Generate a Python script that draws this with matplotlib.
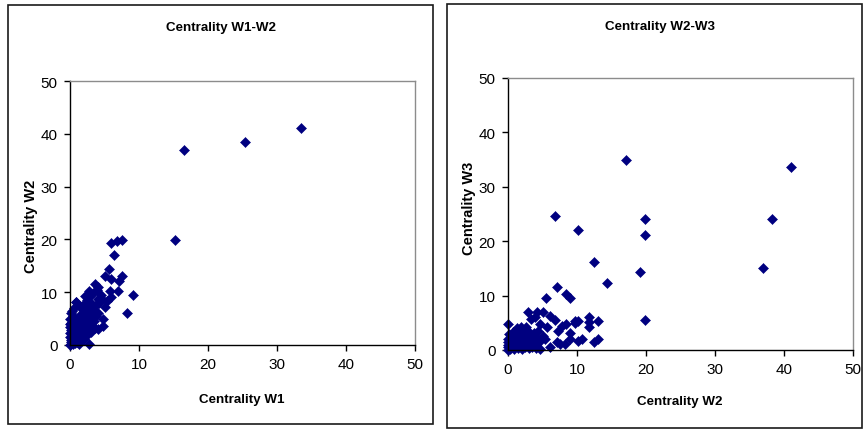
import matplotlib
matplotlib.use("Agg")
import matplotlib.pyplot as plt
from matplotlib.patches import Rectangle

plt.rcParams['font.family'] = ['Liberation Sans', 'DejaVu Sans']

# ---------------- data ----------------
# Left chart: Centrality W1 (x) vs Centrality W2 (y)
w1_a = [33.5, 25.4, 16.5, 15.2, 9.1, 8.2, 6.0, 6.8, 7.5, 6.4,
        5.6, 5.0, 6.0, 7.5, 7.1, 6.9, 5.8, 3.6, 4.1, 2.7,
        2.2, 4.1, 4.6, 5.3, 6.0, 5.1, 4.8, 4.8, 3.4, 3.6,
        2.75, 2.2, 0.5, 0.9,
        0.0, 0.1, 0.2, 0.0, 0.3, 0.1, 0.0, 0.2, 0.0, 0.4,
        0.5, 0.6, 0.8, 0.5, 0.7, 0.9, 1.0, 1.1, 1.2, 1.0,
        1.3, 1.2, 1.5, 1.6, 1.7, 1.5, 1.8, 1.6, 2.0, 2.1,
        2.2, 2.0, 2.3, 2.1, 2.5, 2.6, 2.7, 2.5, 2.8, 2.6,
        3.0, 3.1, 3.2, 3.0, 3.3, 3.1, 3.5, 3.6, 3.8, 4.0,
        4.2, 4.5, 4.0, 3.8, 0.3, 0.6, 0.9, 1.4, 1.9, 2.4,
        2.9, 3.4, 3.9, 0.2, 0.4, 0.7, 1.3, 0.0, 0.0, 0.1]
w2_a = [41.1, 38.5, 36.9, 19.8, 9.5, 6.1, 19.3, 19.7, 19.9, 17.0,
        14.4, 13.1, 12.5, 13.1, 12.1, 10.2, 10.2, 11.5, 10.9, 10.2,
        9.3, 8.7, 8.7, 8.3, 9.0, 7.2, 4.9, 3.6, 5.5, 3.3,
        0.1, 6.8, 5.5, 8.2,
        0.0, 0.5, 1.0, 1.5, 2.0, 2.8, 3.5, 4.2, 5.0, 5.3,
        0.2, 1.2, 2.1, 3.0, 3.8, 4.5, 0.5, 1.5, 2.5, 3.3,
        4.0, 5.0, 0.8, 1.8, 2.8, 3.6, 4.6, 5.8, 1.2, 2.2,
        3.2, 4.2, 5.2, 6.2, 1.8, 3.0, 4.0, 5.0, 6.0, 7.0,
        2.5, 3.8, 4.8, 6.0, 7.2, 8.0, 4.5, 6.5, 7.5, 6.0,
        8.0, 9.5, 3.0, 5.5, 6.5, 7.0, 8.2, 7.2, 7.5, 8.5,
        9.2, 9.8, 10.5, 0.1, 0.8, 0.3, 0.2, 2.2, 4.0, 6.0]

# Right chart: Centrality W2 (x) vs Centrality W3 (y)
w2_b = [41.0, 38.3, 37.0, 17.1, 19.9, 19.9, 19.9, 19.1, 14.3, 12.5,
        10.1, 6.8, 7.05, 5.5, 8.4, 9.0, 0.05,
        2.9, 4.2, 5.1, 6.1, 6.8, 5.6, 7.3, 7.8, 8.4, 9.0,
        9.7, 10.2, 9.7, 11.8, 11.8, 11.8, 13.1, 13.1, 12.4, 10.7,
        10.2, 9.0, 8.3, 7.5, 7.05, 6.1, 5.4, 5.1, 4.6, 3.9, 3.4,
        0.0, 0.0, 0.0, 0.0, 0.0, 0.3, 0.4, 0.5, 0.6, 0.5,
        0.8, 0.9, 1.0, 1.1, 1.0, 1.2, 1.4, 1.5, 1.6, 1.5,
        1.7, 1.8, 2.0, 2.1, 2.2, 2.0, 2.3, 2.2, 2.5, 2.6,
        2.7, 2.5, 2.8, 2.6, 3.0, 3.1, 3.2, 3.0, 3.3, 3.1,
        3.5, 3.6, 3.7, 3.5, 3.8, 4.0, 4.1, 4.2, 4.0, 4.3,
        4.5, 4.6, 1.3, 1.9, 0.7, 0.2]
w3_b = [33.6, 24.1, 15.1, 34.9, 24.1, 21.1, 5.5, 14.3, 12.3, 16.2,
        22.1, 24.6, 11.5, 9.5, 10.3, 9.5, 4.8,
        6.9, 7.0, 7.0, 6.3, 5.5, 4.2, 3.5, 4.5, 4.8, 3.1,
        5.4, 5.4, 5.0, 6.0, 5.2, 4.2, 5.4, 2.0, 1.5, 2.0,
        1.7, 2.0, 1.1, 1.1, 1.4, 0.5, 2.0, 2.6, 4.8, 6.0, 5.7,
        0.0, 0.5, 1.0, 1.5, 2.0, 0.2, 0.8, 1.4, 2.0, 2.6,
        0.1, 0.6, 1.2, 1.8, 2.4, 3.0, 0.3, 0.9, 1.5, 2.1,
        2.7, 3.3, 0.2, 0.8, 1.4, 2.0, 2.6, 3.6, 0.5, 1.1,
        1.7, 2.3, 3.0, 4.2, 0.3, 0.9, 1.5, 2.2, 2.8, 3.4,
        0.6, 1.2, 1.9, 2.6, 3.2, 0.4, 1.0, 1.7, 2.4, 3.5,
        1.4, 0.2, 4.0, 4.3, 3.4, 3.0]

ticks = [0, 10, 20, 30, 40, 50]
titles = ["Centrality W1-W2", "Centrality W2-W3"]
xlabels = ["Centrality W1", "Centrality W2"]
ylabels = ["Centrality W2", "Centrality W3"]

# ---------------- figure ----------------
W, H = 863, 431
fig = plt.figure(figsize=(W / 100, H / 100), dpi=100)

def fx(px):
    return px / W

def fy(py):
    return 1 - py / H

# outer chart boxes
for (x0, y0, x1, y1) in [(8, 6, 433, 425), (447, 5, 862, 429)]:
    fig.patches.append(Rectangle((fx(x0), fy(y1)), fx(x1) - fx(x0), fy(y0) - fy(y1),
                                 transform=fig.transFigure, fill=False,
                                 edgecolor='#1a1a1a', linewidth=1.2))

axes_px = [(70, 82, 415, 346), (508, 79, 853, 351)]
title_px = [(221, 28), (660, 27)]
xlab_px = [(242, 400), (680, 402)]
ylab_px = [(31, 226), (469, 208)]
data = [(w1_a, w2_a), (w2_b, w3_b)]

for i in range(2):
    l, t, r, b = axes_px[i]
    ax = fig.add_axes([fx(l), fy(b), fx(r) - fx(l), fy(t) - fy(b)])
    xs, ys = data[i]
    ax.plot(xs, ys, linestyle='none', marker='D', markersize=5.0,
            color='#000080', markeredgewidth=0.4, clip_on=False)
    ax.set_xlim(0, 50)
    ax.set_ylim(0, 50)
    ax.set_xticks(ticks)
    ax.set_yticks(ticks)
    ax.tick_params(direction='out', length=4, width=1, labelsize=11, pad=5, colors='black')
    ax.spines['left'].set_color('black')
    ax.spines['bottom'].set_color('black')
    ax.spines['top'].set_color('#8c8c8c')
    ax.spines['right'].set_color('#8c8c8c')
    for s in ax.spines.values():
        s.set_linewidth(1.0)
    fig.text(fx(title_px[i][0]), fy(title_px[i][1]), titles[i], ha='center', va='center',
             fontsize=9.6, fontweight='bold')
    fig.text(fx(xlab_px[i][0]), fy(xlab_px[i][1]), xlabels[i], ha='center', va='center',
             fontsize=9.6, fontweight='bold')
    fig.text(fx(ylab_px[i][0]), fy(ylab_px[i][1]), ylabels[i], ha='center', va='center',
             fontsize=10.5, fontweight='bold', rotation=90)

fig.savefig("out.png", dpi=100)
